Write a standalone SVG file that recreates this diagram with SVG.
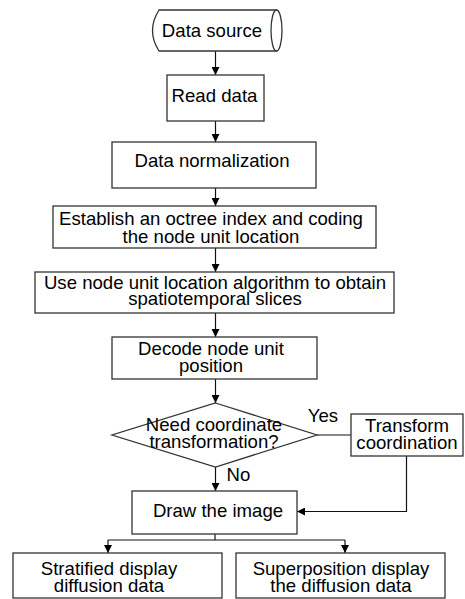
<svg xmlns="http://www.w3.org/2000/svg" width="465" height="599" viewBox="0 0 465 599">
<style>
.box{fill:#fff;stroke:#333;stroke-width:1.3}
.ln{fill:none;stroke:#111;stroke-width:1.2}
text{font-family:"Liberation Sans",Arial,sans-serif;font-size:18.6px;fill:#000;text-anchor:middle}
</style>
<defs>
<marker id="ah" viewBox="0 0 10 10" refX="10" refY="5" markerWidth="8" markerHeight="8" markerUnits="userSpaceOnUse" orient="auto">
<path d="M0,0 L10,5 L0,10 Z" fill="#000"/>
</marker>
</defs>
<rect width="465" height="599" fill="#fff"/>
<g id="connectors">
<line class="ln" x1="215.5" y1="51" x2="215.5" y2="75" marker-end="url(#ah)"/>
<line class="ln" x1="215.5" y1="121" x2="215.5" y2="142" marker-end="url(#ah)"/>
<line class="ln" x1="215.5" y1="188" x2="215.5" y2="206" marker-end="url(#ah)"/>
<line class="ln" x1="215.5" y1="248" x2="215.5" y2="272" marker-end="url(#ah)"/>
<line class="ln" x1="215.5" y1="313" x2="215.5" y2="337" marker-end="url(#ah)"/>
<line class="ln" x1="215.5" y1="379" x2="215.5" y2="403" marker-end="url(#ah)"/>
<line class="ln" x1="215.5" y1="467" x2="215.5" y2="491" marker-end="url(#ah)"/>
<line class="ln" x1="317" y1="435" x2="351" y2="435"/>
<polyline class="ln" points="406.5,456 406.5,511.5 297,511.5" marker-end="url(#ah)"/>
<line class="ln" x1="215" y1="534" x2="215" y2="540"/>
<line class="ln" x1="108" y1="540" x2="345" y2="540"/>
<line class="ln" x1="108" y1="540" x2="108" y2="553" marker-end="url(#ah)"/>
<line class="ln" x1="345" y1="540" x2="345" y2="553" marker-end="url(#ah)"/>
<text x="323" y="422">Yes</text>
<text x="238.5" y="481">No</text>
</g>
<g id="n-source">
<path class="box" d="M159,10 L276.5,10 L276.5,51 L159,51 Q146,30.5 159,10 Z"/>
<ellipse class="box" cx="276.5" cy="30.5" rx="5.5" ry="20.5"/>
<text x="212" y="37">Data source</text>
</g>
<g id="n-read">
<rect class="box" x="167" y="75" width="97" height="46"/>
<text x="214.5" y="102">Read data</text>
</g>
<g id="n-normalize">
<rect class="box" x="112" y="142" width="204" height="46"/>
<text x="212" y="167">Data normalization</text>
</g>
<g id="n-octree">
<rect class="box" x="53" y="206" width="323" height="42"/>
<text x="211" y="225">Establish an octree index and coding</text>
<text x="211" y="243">the node unit location</text>
</g>
<g id="n-slices">
<rect class="box" x="35" y="272" width="359" height="41"/>
<text x="215" y="288.5">Use node unit location algorithm to obtain</text>
<text x="215" y="305">spatiotemporal slices</text>
</g>
<g id="n-decode">
<rect class="box" x="112" y="337" width="205" height="42"/>
<text x="211" y="355">Decode node unit</text>
<text x="211" y="372">position</text>
</g>
<g id="n-decision">
<polygon class="box" points="215.5,403 317,435 215.5,467 112,435"/>
<text x="214" y="431">Need coordinate</text>
<text x="214" y="448">transformation?</text>
</g>
<g id="n-transform">
<rect class="box" x="351" y="414" width="112" height="42"/>
<text x="407" y="431.5">Transform</text>
<text x="407" y="449">coordination</text>
</g>
<g id="n-draw">
<rect class="box" x="132" y="491" width="165" height="43"/>
<text x="218" y="517">Draw the image</text>
</g>
<g id="n-stratified">
<rect class="box" x="13" y="553" width="209" height="45"/>
<text x="109" y="575">Stratified display</text>
<text x="109" y="592">diffusion data</text>
</g>
<g id="n-superposition">
<rect class="box" x="236" y="553" width="209" height="45"/>
<text x="341" y="575">Superposition display</text>
<text x="341" y="592">the diffusion data</text>
</g>
</svg>
